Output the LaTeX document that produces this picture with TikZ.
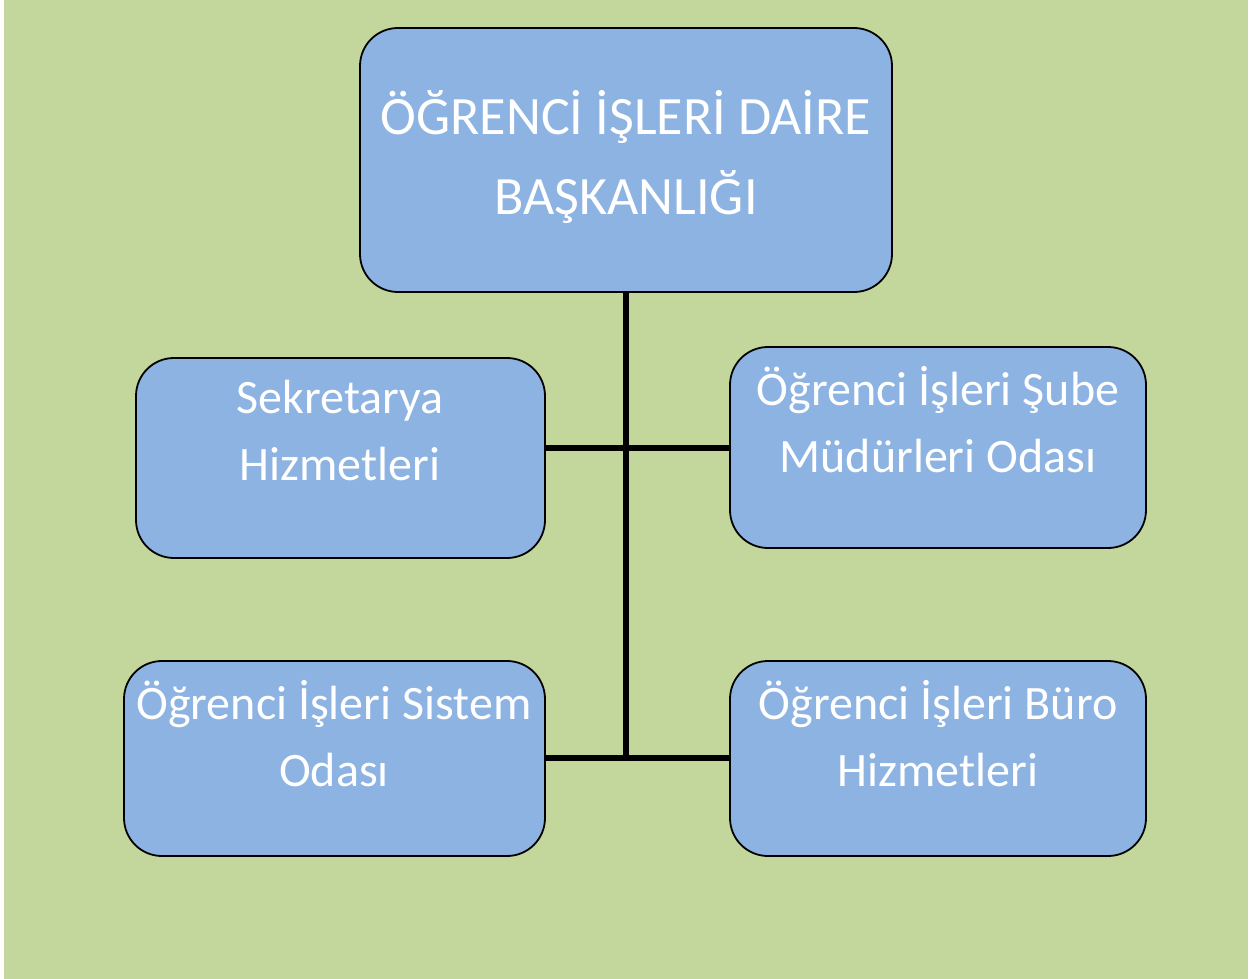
\documentclass[tikz,border=0pt]{standalone}
\usepackage{fontspec}
\setmainfont{Carlito}
\definecolor{bggreen}{HTML}{C3D69B}
\definecolor{boxblue}{HTML}{8DB3E2}
\begin{document}
\begin{tikzpicture}[x=1pt,y=-1pt,
  box/.style={draw=black,line width=1.8pt,fill=boxblue,rounded corners=38pt,inner sep=0pt},
  txtbig/.style={text=white,align=center,font=\fontsize{54}{80}\selectfont,inner sep=0pt},
  txt/.style={text=white,align=center,font=\fontsize{48}{67}\selectfont,inner sep=0pt},
  conn/.style={line width=5.5pt}]
\useasboundingbox (0,0) rectangle (1253,979);
\fill[bggreen] (4,0) rectangle (1248,979);
\node[box,minimum width=532pt,minimum height=264pt] (top) at (626,160) {};
\node[box,minimum width=409pt,minimum height=200pt] (l1) at (340.5,458) {};
\node[box,minimum width=416pt,minimum height=201pt] (r1) at (938,447.5) {};
\node[box,minimum width=421pt,minimum height=195pt] (l2) at (334.5,758.5) {};
\node[box,minimum width=416pt,minimum height=195pt] (r2) at (938,758.5) {};
\coordinate (j1) at (626,448);
\coordinate (j2) at (626,758);
\draw[conn] (top.south) -- ([yshift=-2pt]j2);
\draw[conn] (j1 -| l1.east) -- (j1 -| r1.west);
\draw[conn] (j2 -| l2.east) -- (j2 -| r2.west);
\node[txtbig] (ttop) at (626,157) {ÖĞRENCİ İŞLERİ DAİRE\\BAŞKANLIĞI};
\node[txt] (tl1) at (340,431) {Sekretarya\\Hizmetleri};
\node[txt] (tr1) at (938,419.5) {Öğrenci İşleri Şube\\Müdürleri Odası};
\node[txt] (tl2) at (334,734) {Öğrenci İşleri Sistem\\Odası};
\node[txt] (tr2) at (938,734) {Öğrenci İşleri Büro\\Hizmetleri};
\end{tikzpicture}
\end{document}
